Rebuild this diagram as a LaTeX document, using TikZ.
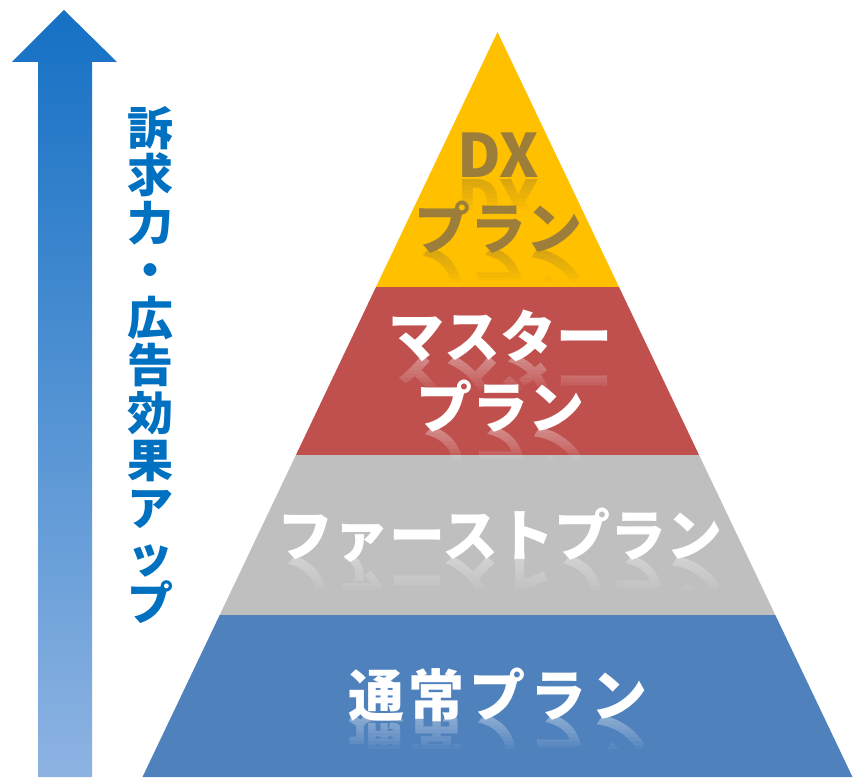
\documentclass[tikz,border=0pt]{standalone}
\usepackage{fontspec}
\newfontfamily\jp{Noto Sans CJK JP}
\usetikzlibrary{calc}
\definecolor{lyellow}{HTML}{FFC000}
\definecolor{lred}{HTML}{C0504D}
\definecolor{lgray}{HTML}{BFBFBF}
\definecolor{lblue}{HTML}{4F81BD}
\definecolor{dxtext}{HTML}{9C7E3A}
\definecolor{sidetext}{HTML}{0070C0}
\definecolor{arrowtop}{HTML}{1570C4}
\definecolor{arrowbot}{HTML}{8DB3E2}
\tikzset{
  layerlabel/.style={font=\jp\bfseries\fontsize{56}{72}\selectfont, inner sep=0pt},
  whitelabel/.style={layerlabel, text=white},
  dxlabel/.style={layerlabel, text=dxtext},
}
% reflection of a text line: #1 x, #2 baseline y, #3 style, #4 text
% nested clips (all starting at the baseline) build a smooth fade without seams
\newcommand\mirrorline[4]{%
  \foreach \rd in {4,8,12,16,20,24,28,32}{%
    \begin{scope}
      \clip (#1-330,#2) rectangle (#1+330,#2-\rd);
      \begin{scope}[shift={(#1,#2)},yscale=-1]
        \node[#3,transform shape,anchor=base,opacity=0.05] at (0,2) {#4};
      \end{scope}
    \end{scope}}}
\begin{document}
\begin{tikzpicture}[x=1pt,y=1pt]
\useasboundingbox (0,0) rectangle (854,777);
% pyramid
\coordinate (A) at (497.5,745);
\coordinate (BL) at (142.5,0);
\coordinate (BR) at (852.5,0);
\coordinate (L1) at ($(A)!0.3423!(BL)$);
\coordinate (R1) at ($(A)!0.3423!(BR)$);
\coordinate (L2) at ($(A)!0.5678!(BL)$);
\coordinate (R2) at ($(A)!0.5678!(BR)$);
\coordinate (L3) at ($(A)!0.7826!(BL)$);
\coordinate (R3) at ($(A)!0.7826!(BR)$);
\fill[lyellow] (A) -- (L1) -- (R1) -- cycle;
\fill[lred] (L1) -- (L2) -- (R2) -- (R1) -- cycle;
\fill[lgray] (L2) -- (L3) -- (R3) -- (R2) -- cycle;
\fill[lblue] (L3) -- (BL) -- (BR) -- (R3) -- cycle;
% arrow
\coordinate (tip) at (64,767);
\coordinate (hl) at (12,715);
\coordinate (hr) at (117,715);
\coordinate (sl) at (38,715);
\coordinate (sr) at (92,715);
\coordinate (bl) at (38,0);
\coordinate (br) at (92,0);
\shade[top color=arrowtop, bottom color=arrowbot] (tip) -- (hr) -- (sr) -- (br) -- (bl) -- (sl) -- (hl) -- cycle;
% side text
\node (side) [font=\jp\bfseries\fontsize{46}{47.5}\selectfont, text=sidetext, align=center, inner sep=0pt] at (150,412)
  {訴\\求\\力\\・\\広\\告\\効\\果\\ア\\ッ\\プ};
% labels
\node (dx) [dxlabel, font=\jp\bfseries\fontsize{60}{72}\selectfont, anchor=base] at (498,599) {DX};
\node (dxplan) [dxlabel, anchor=base] at (498,527) {プラン};
\mirrorline{498}{599}{dxlabel,font=\jp\bfseries\fontsize{60}{72}\selectfont}{DX}
\mirrorline{498}{527}{dxlabel}{プラン}
\node (master) [whitelabel, anchor=base] at (500,419) {マスター};
\node (masterplan) [whitelabel, anchor=base] at (500,348) {プラン};
\mirrorline{500}{419}{whitelabel}{マスター}
\mirrorline{500}{348}{whitelabel}{プラン}
\node (first) [whitelabel, anchor=base] at (500,220) {ファーストプラン};
\mirrorline{500}{220}{whitelabel}{ファーストプラン}
\node (normal) [whitelabel, anchor=base] at (498,61) {通\kern5pt 常\kern5pt プ\kern5pt ラ\kern5pt ン};
\mirrorline{498}{61}{whitelabel}{通\kern5pt 常\kern5pt プ\kern5pt ラ\kern5pt ン}
\end{tikzpicture}
\end{document}
